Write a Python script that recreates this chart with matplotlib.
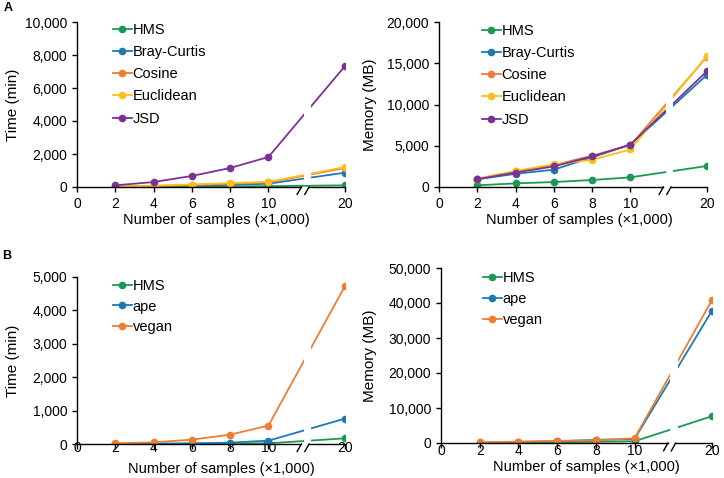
import numpy as np
import matplotlib
matplotlib.use('Agg')
import matplotlib.pyplot as plt
from matplotlib.ticker import FuncFormatter
from matplotlib.transforms import blended_transform_factory

plt.rcParams['font.family'] = ['Liberation Sans', 'DejaVu Sans']
NARROW = ['Liberation Sans Narrow', 'Liberation Sans', 'DejaVu Sans']

# x values (x1,000 samples); 20 sits after an axis break
samples = [2, 4, 6, 8, 10, 20]
xtick_labels = ['0', '2', '4', '6', '8', '10', '20']

# panel A: time (min)
a_time_hms = [5, 15, 25, 35, 50, 100]
a_time_bray = [10, 40, 80, 130, 200, 870]
a_time_cosine = [15, 60, 120, 200, 280, 1150]
a_time_euclid = [20, 80, 150, 240, 310, 1210]
a_time_jsd = [100, 300, 670, 1150, 1820, 7330]

# panel A: memory (MB)
a_mem_hms = [200, 440, 600, 850, 1170, 2550]
a_mem_bray = [930, 1600, 2100, 3600, 5130, 13600]
a_mem_cosine = [1000, 1900, 2650, 3800, 5050, 15800]
a_mem_euclid = [1000, 1950, 2750, 3300, 4550, 15900]
a_mem_jsd = [950, 1750, 2500, 3700, 5150, 14050]

# panel B: time (min)
b_time_hms = [2, 5, 8, 12, 20, 170]
b_time_ape = [5, 10, 20, 40, 100, 760]
b_time_vegan = [20, 50, 130, 280, 550, 4730]

# panel B: memory (MB)
b_mem_hms = [50, 120, 200, 350, 500, 7650]
b_mem_ape = [100, 300, 500, 900, 1150, 37800]
b_mem_vegan = [150, 400, 600, 750, 1350, 40850]

c_hms = '#1a9a50'
c_bray = '#1f78b4'
c_cos = '#ed7d31'
c_euc = '#fbbf1a'
c_jsd = '#7b3294'


def xpos(v):
    # 20 is drawn at position 14, after the break
    return [s if s <= 10 else 14 for s in v]


def draw(ax, series, ymax, ystep, ylabel, leg_anchor, leg_space, ylab_x, xlab_xy, tickpad):
    xs = xpos(samples)
    for label, vals, col in series:
        ax.plot(xs, vals, color=col, lw=1.3, marker='o', ms=4.5, label=label, zorder=3)
    ax.set_xlim(0, 14)
    ax.set_ylim(0, ymax)
    ax.set_yticks(np.arange(0, ymax + 1, ystep))
    ax.yaxis.set_major_formatter(FuncFormatter(lambda v, p: '{:,.0f}'.format(v)))
    ax.set_xticks([0, 2, 4, 6, 8, 10, 14])
    ax.set_xticklabels(xtick_labels)
    ax.tick_params(axis='both', direction='out', length=3.5, width=1, labelsize=10)
    ax.tick_params(axis='x', pad=tickpad)
    ax.spines['top'].set_visible(False)
    ax.spines['right'].set_visible(False)
    ax.spines['bottom'].set_visible(False)
    ax.spines['left'].set_linewidth(1)

    ax.set_ylabel(ylabel, fontsize=11)
    ax.yaxis.label.set_va('center')
    ax.yaxis.set_label_coords(ylab_x, 0.5)
    ax.set_xlabel('Number of samples (\u00d71,000)', fontsize=10.5, family=NARROW)
    ax.xaxis.label.set_va('center')
    ax.xaxis.set_label_coords(*xlab_xy)

    # white gap through the lines at the break
    ax.axvspan(11.85, 12.22, ymin=0.012, ymax=1, color='white', zorder=4, lw=0)

    # broken x axis with slashes
    tr = blended_transform_factory(ax.transData, ax.transAxes)
    k = dict(color='black', lw=1, transform=tr, clip_on=False, zorder=5)
    ax.plot([0, 11.72], [0, 0], **k)
    ax.plot([12.12, 14], [0, 0], **k)
    ax.plot([11.5, 11.72], [-0.045, 0.0], **k)
    ax.plot([11.9, 12.12], [-0.045, 0.0], **k)

    ax.legend(loc='upper left', bbox_to_anchor=leg_anchor, frameon=False,
              prop={'family': NARROW, 'size': 10.5}, handlelength=1.3,
              handletextpad=0.05, labelspacing=leg_space, borderpad=0,
              borderaxespad=0)


fig = plt.figure(figsize=(7.24, 4.78), dpi=100)
W, H = 724.0, 478.0

ax1 = fig.add_axes([77 / W, 1 - 187 / H, 268 / W, 165 / H])
ax2 = fig.add_axes([439 / W, 1 - 187 / H, 268 / W, 165 / H])
ax3 = fig.add_axes([77 / W, 1 - 444 / H, 268 / W, 167 / H])
ax4 = fig.add_axes([441 / W, 1 - 443 / H, 271 / W, 175 / H])

draw(ax1, [('HMS', a_time_hms, c_hms), ('Bray-Curtis', a_time_bray, c_bray),
           ('Cosine', a_time_cosine, c_cos), ('Euclidean', a_time_euclid, c_euc),
           ('JSD', a_time_jsd, c_jsd)],
     10000, 2000, 'Time (min)', (0.134, 0.994), 0.56, -0.239, (0.52, -0.2), 3.5)
draw(ax2, [('HMS', a_mem_hms, c_hms), ('Bray-Curtis', a_mem_bray, c_bray),
           ('Cosine', a_mem_cosine, c_cos), ('Euclidean', a_mem_euclid, c_euc),
           ('JSD', a_mem_jsd, c_jsd)],
     20000, 5000, 'Memory (MB)', (0.16, 0.988), 0.56, -0.257, (0.524, -0.2), 3.5)
draw(ax3, [('HMS', b_time_hms, c_hms), ('ape', b_time_ape, c_bray),
           ('vegan', b_time_vegan, c_cos)],
     5000, 1000, 'Time (min)', (0.134, 0.99), 0.47, -0.239, (0.54, -0.15), -5.5)
draw(ax4, [('HMS', b_mem_hms, c_hms), ('ape', b_mem_ape, c_bray),
           ('vegan', b_mem_vegan, c_cos)],
     50000, 10000, 'Memory (MB)', (0.155, 0.98), 0.47, -0.262, (0.535, -0.135), -3)

fig.text(8 / W, 1 - 8 / H, 'A', fontsize=9, fontweight='bold', va='center', ha='center')
fig.text(7 / W, 1 - 256 / H, 'B', fontsize=9, fontweight='bold', va='center', ha='center')

fig.savefig('out.png', dpi=100)
